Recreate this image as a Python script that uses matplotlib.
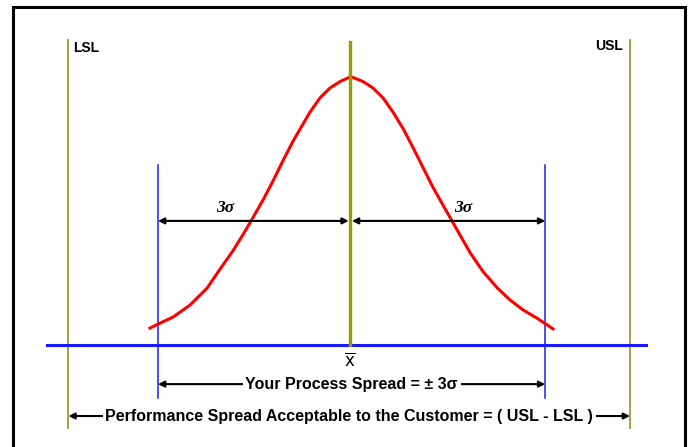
import matplotlib
matplotlib.use("Agg")
import matplotlib.pyplot as plt

plt.rcParams['font.family'] = ['Liberation Sans', 'DejaVu Sans']

# curve: x in sigma units, height relative to the peak
curve_x = [-3.125, -3.0, -2.766, -2.5, -2.234, -2.031, -1.828, -1.672, -1.5625,
           -1.359, -1.203, -1.047, -0.891, -0.75, -0.625, -0.469, -0.3125, -0.156,
           0.0, 0.047, 0.203, 0.359, 0.516, 0.672, 0.828, 0.984, 1.141, 1.297,
           1.453, 1.5625, 1.719, 1.875, 2.078, 2.297, 2.5, 2.703, 2.922, 3.047, 3.172]
curve_y = [0.063, 0.078, 0.104, 0.149, 0.212, 0.283, 0.352, 0.412, 0.456,
           0.541, 0.612, 0.688, 0.760, 0.818, 0.869, 0.922, 0.959, 0.983,
           1.0, 0.998, 0.983, 0.959, 0.922, 0.869, 0.808, 0.737, 0.662, 0.588,
           0.522, 0.476, 0.410, 0.345, 0.274, 0.214, 0.168, 0.131, 0.100, 0.080, 0.060]

mean = 0.0
spread = [-3.0, 3.05]          # +/- 3 sigma
lsl, usl = -4.4, 4.375
spec_labels = ["LSL", "USL"]
sigma_label = "3σ"
process_label = "Your Process Spread = \u00b1 3σ"
customer_label = "Performance Spread Acceptable to the Customer = ( USL - LSL )"

olive = "#999900"
olive_light = "#a8a23c"
blue = "#1a1aff"

fig = plt.figure(figsize=(6.91, 4.47), dpi=100)
ax = fig.add_axes([0, 0, 1, 1])
ax.set_xlim(-5.469, 5.328)
ax.set_ylim(-0.3806, 1.2873)
ax.axis("off")

# frame (open at the bottom)
ax.plot([0.0188, 0.0188, 0.991, 0.991], [0, 0.984, 0.984, 0], color="black",
        lw=2.2, transform=ax.transAxes, solid_joinstyle="miter")

# spec limits
ax.plot([lsl, lsl], [-0.31, 1.138], color=olive_light, lw=1.4)
ax.plot([usl, usl], [-0.31, 1.138], color=olive_light, lw=1.4)
ax.text(lsl + 0.08, 1.108, spec_labels[0], fontsize=10, fontweight="bold",
        ha="left", va="center")
ax.text(usl - 0.11, 1.115, spec_labels[1], fontsize=10, fontweight="bold",
        ha="right", va="center")

# baseline
ax.plot([-4.73, 4.625], [0, 0], color=blue, lw=2.2)

# +/- 3 sigma markers
for s in spread:
    ax.plot([s, s], [-0.198, 0.672], color=blue, lw=1.1)

# normal curve
ax.plot(curve_x, curve_y, color="red", lw=2.2, solid_joinstyle="round")

# mean line
ax.plot([mean, mean], [0, 1.13], color=olive, lw=2.4)
ax.text(mean, -0.058, r"$\overline{\mathsf{x}}$", fontsize=12, ha="center",
        va="center")

# 3 sigma arrows
arr = dict(arrowstyle="<|-|>", color="black", lw=1.5, mutation_scale=9,
           shrinkA=0, shrinkB=0)
ax.annotate("", xy=(spread[0], 0.463), xytext=(mean - 0.02, 0.463), arrowprops=arr)
ax.annotate("", xy=(mean + 0.03, 0.463), xytext=(spread[1], 0.463), arrowprops=arr)
ax.text(-1.95, 0.513, sigma_label, fontsize=12.5, fontweight="bold", style="italic",
        family="Liberation Serif", ha="center", va="center")
ax.text(1.77, 0.513, sigma_label, fontsize=12.5, fontweight="bold", style="italic",
        family="Liberation Serif", ha="center", va="center")

# process spread
ax.annotate("", xy=(spread[0], -0.146), xytext=(spread[1], -0.146), arrowprops=arr)
ax.text((spread[0] + spread[1]) / 2, -0.146, process_label, fontsize=11.5,
        fontweight="bold", ha="center", va="center",
        bbox=dict(facecolor="white", edgecolor="none", pad=2))

# customer spread
ax.annotate("", xy=(lsl, -0.265), xytext=(usl, -0.265), arrowprops=arr)
ax.text((lsl + usl) / 2, -0.265, customer_label, fontsize=11.5, fontweight="bold",
        ha="center", va="center",
        bbox=dict(facecolor="white", edgecolor="none", pad=2))

fig.savefig("out.png", dpi=100)
